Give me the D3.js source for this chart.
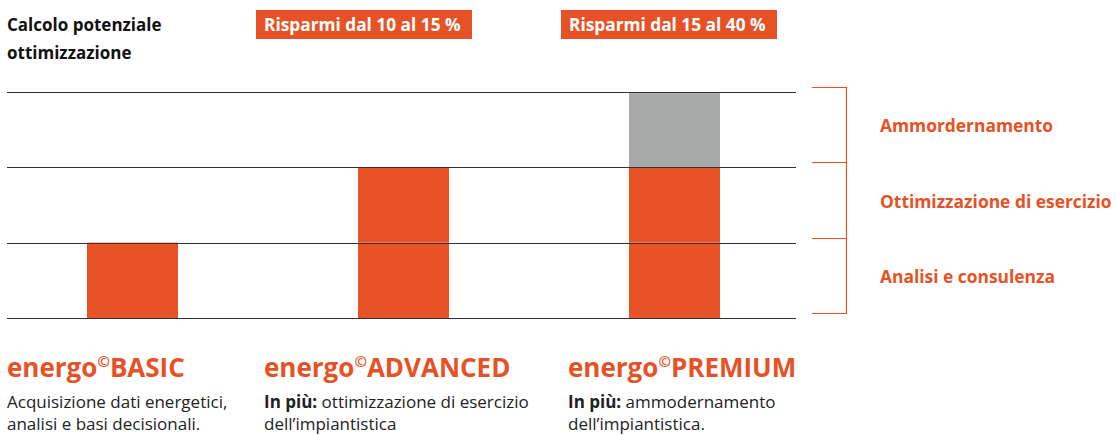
<!DOCTYPE html>
<html>
<head>
<meta charset="utf-8">
<script src="https://cdn.jsdelivr.net/npm/d3@7"></script>
<style>
  body { margin: 0; background: #fff; }
  svg { display: block; font-family: "Open Sans", "Noto Sans", sans-serif; }
</style>
</head>
<body>
<div id="chart"></div>
<script>
const categories = ["BASIC", "ADVANCED", "PREMIUM"];
const layers = ["Analisi e consulenza", "Ottimizzazione di esercizio", "Ammordernamento"];
const analisi = [1, 1, 1];
const ottimizzazione = [0, 1, 1];
const ammodernamento = [0, 0, 1];
const badges = [null, "Risparmi dal 10 al 15 %", "Risparmi dal 15 al 40 %"];
const descriptions = [
    [["", "Acquisizione dati energetici,"], ["", "analisi e basi decisionali."]],
    [["In più:", " ottimizzazione di esercizio"], ["", "dell’impiantistica"]],
    [["In più:", " ammodernamento"], ["", "dell’impiantistica."]]
];
const titleLines = ["Calcolo potenziale", "ottimizzazione"];

const ORANGE = "#e65226";
const GREY = "#a8aaa9";
const width = 1116, height = 435;

const svg = d3.select("#chart").append("svg")
    .attr("width", width)
    .attr("height", height);

const x = d3.scalePoint().domain(categories).range([-3, 810]).padding(0.5);
const y = d3.scaleLinear().domain([0, 3]).range([318, 92]);
const barW = 91;
const colX = d3.scaleOrdinal().domain(categories).range([7, 264, 568]);

const rows = categories.map((c, i) => ({ cat: c, analisi: analisi[i], ottimizzazione: ottimizzazione[i], ammodernamento: ammodernamento[i] }));
const stack = d3.stack().keys(["analisi", "ottimizzazione", "ammodernamento"])(rows);
const fills = { analisi: ORANGE, ottimizzazione: ORANGE, ammodernamento: GREY };

// bars
svg.append("g").selectAll("g")
    .data(stack)
    .join("g")
    .attr("fill", d => fills[d.key])
    .selectAll("rect")
    .data(d => d.filter(p => p[1] > p[0]))
    .join("rect")
    .attr("x", d => x(d.data.cat) - barW / 2)
    .attr("y", d => y(d[1]))
    .attr("width", barW)
    .attr("height", d => y(d[0]) - y(d[1]));

// grid lines
svg.append("g").selectAll("line")
    .data(y.ticks(3))
    .join("line")
    .attr("x1", 7).attr("x2", 796)
    .attr("y1", d => Math.round(y(d)) + 0.5)
    .attr("y2", d => Math.round(y(d)) + 0.5)
    .attr("stroke", "#333")
    .attr("stroke-width", 1.2);

// bracket
const br = svg.append("g").attr("stroke", ORANGE).attr("fill", "none").attr("stroke-width", 1.2);
br.append("line")
    .attr("x1", 846.5).attr("x2", 846.5)
    .attr("y1", y(3) - 5).attr("y2", y(0) - 5);
br.selectAll("line.tick")
    .data(y.ticks(3))
    .join("line")
    .attr("class", "tick")
    .attr("x1", 812).attr("x2", 847)
    .attr("y1", d => Math.round(y(d)) - 4.5)
    .attr("y2", d => Math.round(y(d)) - 4.5);

svg.append("g").selectAll("text")
    .data(layers)
    .join("text")
    .attr("x", 880)
    .attr("y", (d, i) => (y(i) + y(i + 1)) / 2 + 2.5)
    .attr("fill", ORANGE)
    .attr("font-weight", "bold")
    .attr("font-size", 17.4)
    .text(d => d);

// title
svg.append("g").selectAll("text")
    .data(titleLines)
    .join("text")
    .attr("x", 7)
    .attr("y", (d, i) => 31 + i * 28)
    .attr("font-weight", "bold")
    .attr("font-size", 17)
    .attr("fill", "#111")
    .text(d => d);

// badges
const badgeX = [null, 256, 561];
badges.forEach((b, i) => {
    if (!b) return;
    const g = svg.append("g");
    g.append("rect")
        .attr("x", badgeX[i]).attr("y", 10)
        .attr("width", 216).attr("height", 29)
        .attr("fill", ORANGE);
    g.append("text")
        .attr("x", badgeX[i] + 8).attr("y", 31)
        .attr("fill", "#fff")
        .attr("font-weight", "bold")
        .attr("font-size", 17.3)
        .text(b);
});

// product names and descriptions
categories.forEach((c, i) => {
    const x0 = colX(c);
    const name = svg.append("text")
        .attr("x", x0).attr("y", 377)
        .attr("fill", ORANGE)
        .attr("font-weight", "bold")
        .attr("font-size", 26);
    name.append("tspan").text("energo");
    name.append("tspan").attr("font-size", 15).attr("dy", -10).text("©");
    name.append("tspan").attr("dy", 10).text(c);

    descriptions[i].forEach((line, j) => {
        const t = svg.append("text")
            .attr("x", x0).attr("y", 408 + j * 22)
            .attr("font-size", 17)
            .attr("fill", "#222");
        if (line[0]) t.append("tspan").attr("font-weight", "bold").text(line[0]);
        t.append("tspan").text(line[1]);
    });
});
</script>
</body>
</html>
